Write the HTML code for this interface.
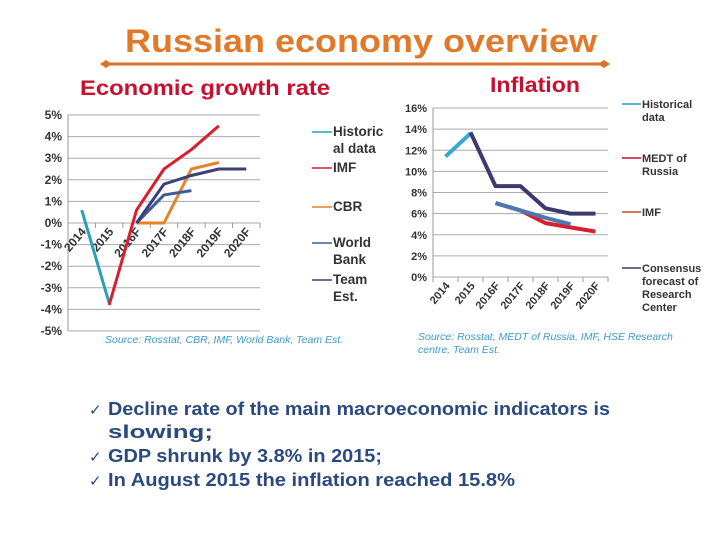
<!DOCTYPE html>
<html><head><meta charset="utf-8"><style>
body{margin:0;width:720px;height:540px;background:#fff;overflow:hidden;font-family:"Liberation Sans",sans-serif}
svg{display:block}
</style></head><body>
<svg id="s" width="720" height="540">
<text x="125" y="52" textLength="472" lengthAdjust="spacingAndGlyphs" font-size="32" font-weight="bold" fill="#e07a2a">Russian economy overview</text>
<line x1="106" y1="64" x2="604" y2="64" stroke="#d9722a" stroke-width="3"/>
<polygon points="100,64 106,60 112,64 106,68" fill="#d9722a"/>
<polygon points="598,64 604,60 610,64 604,68" fill="#d9722a"/>
<text x="80" y="95" textLength="250" lengthAdjust="spacingAndGlyphs" font-size="21" font-weight="bold" fill="#c8102e">Economic growth rate</text>
<text x="490" y="92" textLength="90" lengthAdjust="spacingAndGlyphs" font-size="21" font-weight="bold" fill="#c8102e">Inflation</text>
<g id="g1"></g>
<g id="g2"></g>
<text x="105" y="343" font-size="10.5" font-style="italic" fill="#3a9ad0">Source: Rosstat, CBR, IMF, World Bank, Team Est.</text>
<text x="418" y="340" font-size="10.5" font-style="italic" fill="#3a9ad0">Source: Rosstat, MEDT of Russia, IMF, HSE Research</text>
<text x="418" y="353" font-size="10.5" font-style="italic" fill="#3a9ad0">centre, Team Est.</text>
<g font-size="18" font-weight="bold" fill="#2a4a7f">
<text x="89" y="415" font-size="15" font-weight="normal">✓</text>
<text x="108" y="415" textLength="502" lengthAdjust="spacingAndGlyphs">Decline rate of the main macroeconomic indicators is</text>
<text x="108" y="438" textLength="105" lengthAdjust="spacingAndGlyphs">slowing;</text>
<text x="89" y="462" font-size="15" font-weight="normal">✓</text>
<text x="108" y="462" textLength="274" lengthAdjust="spacingAndGlyphs">GDP shrunk by 3.8% in 2015;</text>
<text x="89" y="486" font-size="15" font-weight="normal">✓</text>
<text x="108" y="486" textLength="407" lengthAdjust="spacingAndGlyphs">In August 2015 the inflation reached 15.8%</text>
</g>
</svg>
<script>
const categories=["2014","2015","2016F","2017F","2018F","2019F","2020F"];
const gHist=[0.6,-3.7,null,null,null,null,null];
const gIMF=[null,-3.8,0.6,2.5,3.4,4.5,null];
const gCBR=[null,null,0,0,2.5,2.8,null];
const gWB=[null,null,0,1.3,1.5,null,null];
const gTeam=[null,null,0,1.8,2.2,2.5,2.5];
const gTicks=[5,4,3,2,1,0,-1,-2,-3,-4,-5];
const iHist=[11.4,13.6,null,null,null,null,null];
const iMEDT=[null,null,7.0,6.3,5.1,4.7,4.3];
const iIMF=[null,null,7.0,6.3,5.6,5.0,null];
const iCons=[null,13.7,8.6,8.6,6.5,6.0,6.0];
const iTicks=[16,14,12,10,8,6,4,2,0];
const NS="http://www.w3.org/2000/svg";
function mk(p,t,a){const e=document.createElementNS(NS,t);for(const k in a)e.setAttribute(k,a[k]);p.appendChild(e);return e;}
function chart(g,o){
 const x=i=>o.x0+(i+0.5)*(o.x1-o.x0)/categories.length;
 const y=v=>o.y0+(o.vmax-v)/(o.vmax-o.vmin)*(o.y1-o.y0);
 o.ticks.forEach(t=>{
  const l=mk(g,'line',{x1:o.x0,x2:o.x1,y1:y(t),y2:y(t),stroke:'#aaa','stroke-width':1});
  
  
  const tx=mk(g,'text',{x:o.x0-6,y:y(t)+4,'text-anchor':'end','font-size':o.fs,'font-weight':'bold',fill:'#333'});
  tx.textContent=t+'%';
  
  
 });
 const ax=mk(g,'line',{x1:o.x0,x2:o.x0,y1:o.y0,y2:o.y1,stroke:'#999'});
 
 
 const ay=y(o.axisV);
 for(let i=0;i<=categories.length;i++){
  const tx0=o.x0+i*(o.x1-o.x0)/categories.length;
  const tk=mk(g,'line',{x1:tx0,x2:tx0,y1:ay,y2:ay+5,stroke:'#999'});
  
  
 }
 categories.forEach((c,i)=>{
  const lx=x(i)+5,ly=ay+9;
  const t=mk(g,'text',{x:lx,y:ly,'text-anchor':'end','font-size':o.fs,'font-weight':'bold',fill:'#333',transform:`rotate(-50 ${lx} ${ly})`});
  t.textContent=c;
  
  
 });
 o.series.forEach(s=>{
  let d='';s.v.forEach((v,i)=>{if(v!==null)d+=(d?'L':'M')+x(i)+','+y(v);});
  const p=mk(g,'path',{d:d,fill:'none',stroke:s.c,'stroke-width':s.w,'stroke-linejoin':'round'});
  
  
 });
 o.legend.forEach(L=>{
  const l=mk(g,'line',{x1:o.lx,x2:o.lx+o.lw,y1:L.y[0]-4,y2:L.y[0]-4,stroke:L.c,'stroke-width':1.5});
  
  
  L.t.forEach((tt,k)=>{
   const t=mk(g,'text',{x:o.lx+o.lw+1,y:L.y[k],'font-size':o.lfs,'font-weight':'bold',fill:'#333'});
   t.textContent=tt;
   
   
  });
 });
}
chart(document.getElementById('g1'),{x0:68,x1:260,y0:115,y1:331,vmax:5,vmin:-5,axisV:0,ticks:gTicks,fs:12,lfs:13.5,lx:312,lw:20,
 series:[{v:gHist,c:'#2aa0b8',w:3,n:'series-historical'},{v:gCBR,c:'#e8822a',w:3,n:'series-cbr'},{v:gWB,c:'#3d5a99',w:3,n:'series-world-bank'},{v:gTeam,c:'#3c3f78',w:3,n:'series-team-est'},{v:gIMF,c:'#d6202f',w:3,n:'series-imf'}],
 legend:[{c:'#2aa0b8',t:['Historic','al data'],y:[136,153]},{c:'#d6202f',t:['IMF'],y:[172]},{c:'#e8822a',t:['CBR'],y:[211]},{c:'#3d5a99',t:['World','Bank'],y:[247,264]},{c:'#3c3f78',t:['Team','Est.'],y:[284,301]}]});
chart(document.getElementById('g2'),{x0:433,x1:608,y0:108,y1:277,vmax:16,vmin:0,axisV:0,ticks:iTicks,fs:11,lfs:11,lx:622,lw:19,
 series:[{v:iHist,c:'#39a8d0',w:4,n:'series-historical'},{v:iCons,c:'#3b3a6e',w:4,n:'series-consensus'},{v:iMEDT,c:'#d6202f',w:4,n:'series-medt'},{v:iIMF,c:'#4a78b0',w:4,n:'series-imf'}],
 legend:[{c:'#2aa0b8',t:['Historical','data'],y:[108,121]},{c:'#c8102e',t:['MEDT of','Russia'],y:[162,175]},{c:'#c0502a',t:['IMF'],y:[216]},{c:'#3b3a6e',t:['Consensus','forecast of','Research','Center'],y:[272,285,298,311]}]});
</script>
</body></html>
